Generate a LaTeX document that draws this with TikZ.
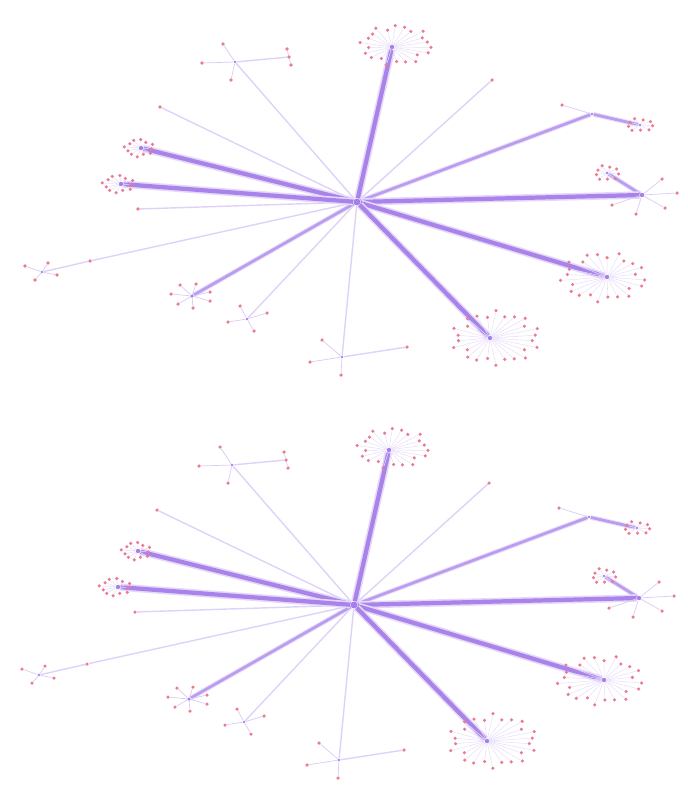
\documentclass[tikz,border=0pt]{standalone}
\usetikzlibrary{calc}

\definecolor{spoke}{RGB}{150,104,230}
\definecolor{leafred}{RGB}{226,80,110}

\tikzset{
  leaf/.style={circle,fill=leafred!75,inner sep=0pt,minimum size=2pt},
  hub/.style={circle,fill=spoke!85,inner sep=0pt,minimum size=2.5pt},
  twig/.style={draw=spoke!22,line width=.3pt},
  faint/.style={draw=spoke!30,line width=.8pt},
  medium/.style={draw=spoke!65,line width=1.6pt,preaction={draw=spoke!20,line width=2.8pt}},
  heavy/.style={draw=spoke!82,line width=2.4pt,preaction={draw=spoke!25,line width=4.2pt}},
}

% ring of leaves round a hub: name, offset x, offset y, rx, ry, count
\newcommand\burst[6]{%
  \foreach \k in {1,...,#6}{
    \pgfmathsetmacro\rxj{#4*(1+0.14*sin(137*\k))}
    \pgfmathsetmacro\ryj{#5*(1+0.14*sin(137*\k))}
    \path (#1) ++(#2,#3) ++({360/#6*\k+7}:{\rxj} and {\ryj}) node[leaf] (#1-\k) {};
    \draw[twig] (#1) -- (#1-\k);
  }}

% a few leaves hung on one hub
\newcommand\leaves[2]{%
  \foreach \x/\y [count=\k] in {#2}{
    \node[leaf] (#1-\k) at (\x,\y) {};
    \draw[twig,draw=spoke!35,line width=.4pt] (#1) -- (#1-\k);
  }}

\newcommand\stargraph[1]{%
  \node[hub,minimum size=4pt] (#1h) at (357,202) {};
  % ends of the spokes
  \node[hub] (#1t)  at (392,47) {};
  \node[hub,minimum size=1.6pt] (#1a)  at (235,62) {};
  \node[leaf] (#1a2) at (289,57) {};
  \node[leaf] (#1b)  at (160,107) {};
  \node[hub] (#1c)  at (141,148) {};
  \node[hub] (#1d)  at (121,184) {};
  \node[leaf] (#1e)  at (138,209) {};
  \node[leaf] (#1f)  at (90,261) {};
  \node[hub,minimum size=1.6pt] (#1g)  at (42,272) {};
  \node[hub,minimum size=2pt] (#1i)  at (192,296) {};
  \node[hub,minimum size=1.6pt] (#1j)  at (247,319) {};
  \node[hub,minimum size=1.6pt] (#1k)  at (342,357) {};
  \node[leaf] (#1k2) at (407,347) {};
  \node[hub] (#1l)  at (490,338) {};
  \node[hub] (#1m)  at (607,277) {};
  \node[hub] (#1n)  at (642,195) {};
  \node[hub,minimum size=1.6pt] (#1n2) at (607,173) {};
  \node[hub,minimum size=1.6pt] (#1o)  at (592,114) {};
  \node[hub,minimum size=1.6pt] (#1o2) at (640,125) {};
  \node[leaf] (#1p)  at (492,80) {};
  % spokes
  \draw[faint] (#1h) -- (#1a) -- (#1a2);
  \draw[faint] (#1h) -- (#1b);
  \draw[faint] (#1h) -- (#1e);
  \draw[faint] (#1h) -- (#1f) -- (#1g);
  \draw[faint] (#1h) -- (#1j);
  \draw[faint] (#1h) -- (#1k) -- (#1k2);
  \draw[faint] (#1h) -- (#1p);
  \draw[medium] (#1h) -- (#1i);
  \draw[medium] (#1h) -- (#1o) -- (#1o2);
  \draw[medium] (#1n) -- (#1n2);
  \draw[heavy] (#1h) -- (#1t);
  \draw[heavy] (#1h) -- (#1c);
  \draw[heavy] (#1h) -- (#1d);
  \draw[heavy] (#1h) -- (#1n);
  \draw[heavy] (#1h) -- (#1m);
  \draw[heavy] (#1h) -- (#1l);
  % clusters
  \burst{#1t}{4}{-2}{32}{18}{22}
  \burst{#1c}{-2}{0}{13}{8}{12}
  \burst{#1d}{-3}{0}{14}{8}{12}
  \burst{#1l}{6}{0}{40}{24}{26}
  \burst{#1m}{-4}{0}{38}{22}{24}
  \burst{#1n2}{0}{0}{11}{7}{9}
  \burst{#1o2}{0}{0}{12}{6}{9}
  \leaves{#1a}{202/63,223/44,231/80}
  \leaves{#1a2}{287/49,291/65}
  \leaves{#1g}{25/266,48/263,35/280,57/275}
  \leaves{#1i}{171/294,180/285,196/284,210/292,210/301,193/308,178/304}
  \leaves{#1j}{228/322,240/306,267/313,254/331}
  \leaves{#1k}{310/362,322/340,341/375}
  \leaves{#1n}{612/205,636/214,665/208,677/193,662/179}
  \leaves{#1o}{562/105}
}

\begin{document}
\begin{tikzpicture}[x=0.02cm,y=-0.02cm]
  \useasboundingbox (0,0) rectangle (688,798);
  \begin{scope}
    \stargraph{u}
  \end{scope}
  \begin{scope}[shift={(-3,403)}]
    \stargraph{v}
  \end{scope}
\end{tikzpicture}
\end{document}
